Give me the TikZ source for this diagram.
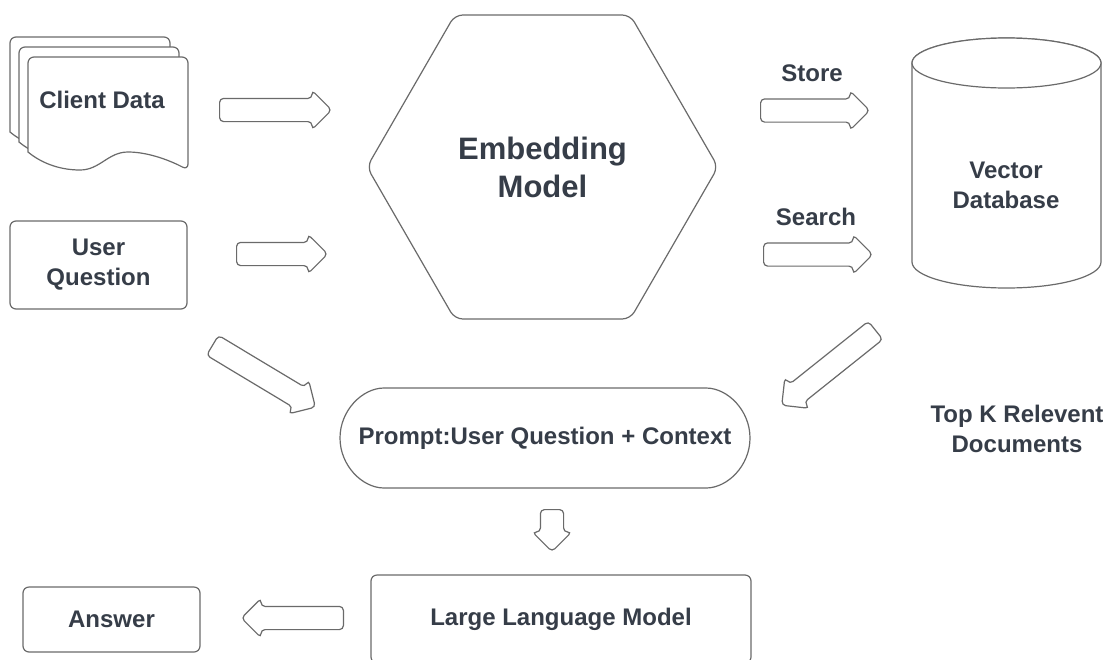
\documentclass[tikz,border=0pt]{standalone}
\usepackage{fontspec}
\setmainfont{Liberation Sans}
\usetikzlibrary{shapes.geometric,shapes.arrows,shapes.misc,positioning}

\definecolor{ink}{HTML}{363D48}
\definecolor{edge}{HTML}{6A6A6A}

% one page of the stacked document, top left corner at (#1,#2)
\newcommand{\docsheet}[2]{%
  \draw[sheet] (#1,#2+95) [rounded corners=3pt] -- (#1,#2) -- (#1+160,#2)
    -- (#1+160,#2+113) [sharp corners]
    .. controls (#1+145,#2+105) and (#1+122,#2+95) .. (#1+100,#2+95)
    .. controls (#1+80,#2+95) and (#1+72,#2+113) .. (#1+52,#2+113)
    .. controls (#1+30,#2+113) and (#1+12,#2+105) .. cycle;}

\begin{document}
\begin{tikzpicture}[x=0.5pt, y=-0.5pt,
    txt/.style={text=ink, font=\bfseries\fontsize{12}{15}\selectfont, align=center},
    sheet/.style={draw=edge, line width=0.6pt, fill=white},
    box/.style={txt, draw=edge, line width=0.6pt, fill=white, rounded corners=3pt, inner sep=0pt},
    bigarrow/.style={single arrow, anchor=tail, draw=edge, line width=0.6pt, fill=white,
      inner xsep=0pt, inner ysep=5.5pt, single arrow head extend=4pt, rounded corners=2pt}]

    \path[use as bounding box, fill=white] (0,0) rectangle (1107,659);

    % client data stack
    \docsheet{10}{37}
    \docsheet{19}{47}
    \docsheet{28}{57}
    \node [txt] (client) at (102,100) {Client Data};

    \node [box, minimum width=88.5pt, minimum height=44pt] (question) at (98.5,265) {User\\Question};

    \node [box, draw, regular polygon, regular polygon sides=6, minimum size=175.5pt,
      rounded corners=4pt, font=\bfseries\fontsize{15.5}{19}\selectfont] (embed) at (542.5,167) {Embedding\\Model};

    % vector database
    \draw[sheet] (912,63) -- (912,262) arc [start angle=180, end angle=0, x radius=94.5, y radius=26]
      -- (1101,63) arc [start angle=0, end angle=-180, x radius=94.5, y radius=25] -- cycle;
    \draw[sheet] (1006.5,63) ellipse [x radius=94.5, y radius=25];
    \node [txt] (vdb) at (1006,185) {Vector\\Database};

    \node [txt] (store) at (812,73) {Store};
    \node [txt] (search) at (816,217) {Search};
    \node [txt] (topk) at (1017,429) {Top K Relevent\\Documents};

    \node [box, rounded rectangle, minimum width=205pt, minimum height=50pt] (prompt) at (545,438) {Prompt:User Question + Context};
    \node [box, minimum width=190pt, minimum height=44pt] (llm) at (561,619) {Large Language Model};
    \node [box, minimum width=88.5pt, minimum height=32.5pt] (answer) at (111.5,619.5) {Answer};

    % block arrows, placed by their tails
    \node [bigarrow, minimum height=56pt] (a1) at (219,110) {};
    \node [bigarrow, minimum height=45.5pt] (a2) at (236,254) {};
    \node [bigarrow, minimum height=54.5pt] (a3) at (760,110.5) {};
    \node [bigarrow, minimum height=54.5pt] (a4) at (763,254.5) {};
    \node [bigarrow, minimum height=60pt, rotate=-31] (a5) at (212,345) {};
    \node [bigarrow, minimum height=60pt, rotate=-141.4] (a6) at (876,330) {};
    \node [bigarrow, minimum height=21pt, rotate=-90] (a7) at (552,509) {};
    \node [bigarrow, minimum height=51pt, rotate=180] (a8) at (344,618) {};
\end{tikzpicture}
\end{document}
